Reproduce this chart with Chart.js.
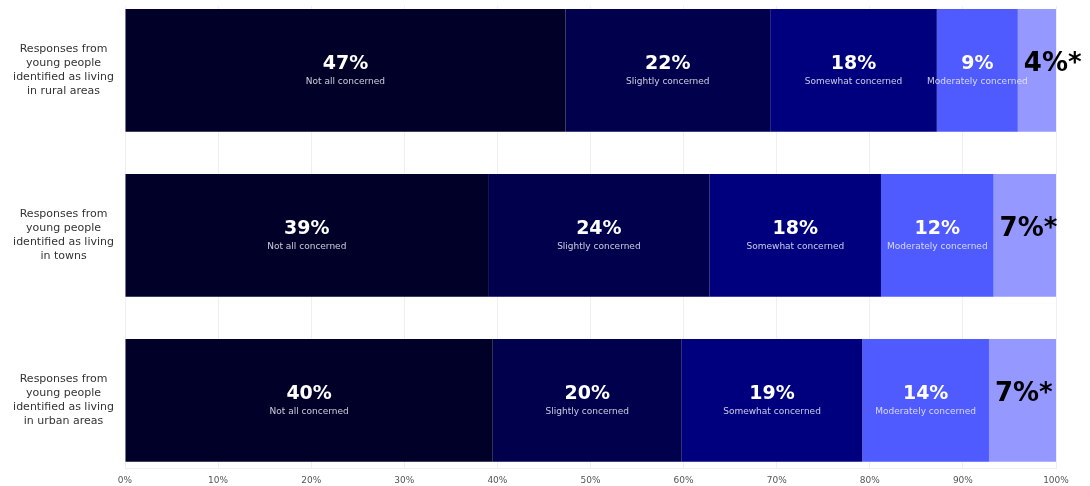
<!DOCTYPE html>
<html>
<head>
<meta charset="utf-8">
<script src="https://cdn.jsdelivr.net/npm/chart.js@4.4.1/dist/chart.umd.min.js"></script>
<style>
    html, body { margin: 0; padding: 0; background: #fff; }
    #wrap { width: 1090px; height: 486px; }
</style>
</head>
<body>
<div id="wrap"><canvas id="concernChart" width="1090" height="486"></canvas></div>
<script>
const rowLabels = [
    ['Responses from', 'young people', 'identified as living', 'in rural areas'],
    ['Responses from', 'young people', 'identified as living', 'in towns'],
    ['Responses from', 'young people', 'identified as living', 'in urban areas']
];
const levels = ['Not all concerned', 'Slightly concerned', 'Somewhat concerned', 'Moderately concerned', 'Very concerned'];
const colours = ['#000028', '#00004c', '#00007f', '#4f5bff', '#9599ff'];

// share (%) per level, one array per row: rural, towns, urban
const rural = [47.3, 22.0, 17.9, 8.7, 4.1];
const towns = [39.0, 23.8, 18.4, 12.1, 6.7];
const urban = [39.5, 20.3, 19.4, 13.6, 7.2];
const rows = [rural, towns, urban];

const xTicks = [0, 10, 20, 30, 40, 50, 60, 70, 80, 90, 100];

const datasets = levels.map((level, li) => ({
    label: level,
    data: rows.map((row, ri) => ({ x: row[li], y: ri })),
    backgroundColor: colours[li],
    borderWidth: 0,
    barPercentage: 0.745,
    categoryPercentage: 1
}));

// labels inside the segments
const segmentLabels = {
    id: 'segmentLabels',
    afterDatasetsDraw(chart) {
        const ctx = chart.ctx;
        ctx.save();
        chart.data.datasets.forEach((ds, di) => {
            const meta = chart.getDatasetMeta(di);
            meta.data.forEach((bar, ri) => {
                const pct = Math.round(rows[ri][di]) + '%';
                const left = Math.min(bar.x, bar.base);
                const mid = (bar.x + bar.base) / 2;
                if (di === levels.length - 1) {
                    ctx.fillStyle = '#000';
                    ctx.font = 'bold 26px "DejaVu Sans"';
                    ctx.textAlign = 'left';
                    ctx.textBaseline = 'middle';
                    ctx.fillText(pct + '*', left + 6, bar.y - 6);
                    return;
                }
                ctx.fillStyle = '#fff';
                ctx.font = 'bold 19px "DejaVu Sans"';
                ctx.textAlign = 'center';
                ctx.textBaseline = 'middle';
                ctx.fillText(pct, mid, bar.y - 6);
                ctx.fillStyle = 'rgba(235,235,245,0.85)';
                ctx.font = '9px "DejaVu Sans"';
                ctx.fillText(levels[di], mid, bar.y + 11);
            });
        });
        ctx.restore();
    }
};

new Chart(document.getElementById('concernChart').getContext('2d'), {
    type: 'bar',
    data: { datasets },
    plugins: [segmentLabels],
    options: {
        indexAxis: 'y',
        responsive: false,
        animation: false,
        layout: { padding: { top: 6, right: 34, bottom: 0, left: 0 } },
        plugins: {
            legend: { display: false },
            tooltip: { enabled: false }
        },
        scales: {
            x: {
                stacked: true,
                min: 0,
                max: 100,
                afterBuildTicks: scale => { scale.ticks = xTicks.map(v => ({ value: v })); },
                afterFit: scale => { scale.height = 18; },
                grid: { color: '#efefef', drawTicks: false },
                border: { display: true, color: '#eeeeee' },
                ticks: {
                    padding: 7,
                    color: '#555',
                    font: { family: 'DejaVu Sans', size: 9 },
                    callback: val => val + '%'
                }
            },
            y: {
                type: 'linear',
                stacked: true,
                reverse: true,
                offset: false,
                bounds: 'data',
                min: -0.39,
                max: 2.41,
                afterBuildTicks: scale => { scale.ticks = rowLabels.map((_, i) => ({ value: i })); },
                afterFit: scale => {
                    scale.width = 125;
                    scale.paddingTop = 0;
                    scale.paddingBottom = 0;
                },
                grid: { display: false },
                border: { display: false },
                ticks: {
                    crossAlign: 'center',
                    padding: 3,
                    color: '#333',
                    font: { family: 'DejaVu Sans', size: 11, lineHeight: 1.27 },
                    callback: val => rowLabels[val]
                }
            }
        }
    }
});
</script>
</body>
</html>
